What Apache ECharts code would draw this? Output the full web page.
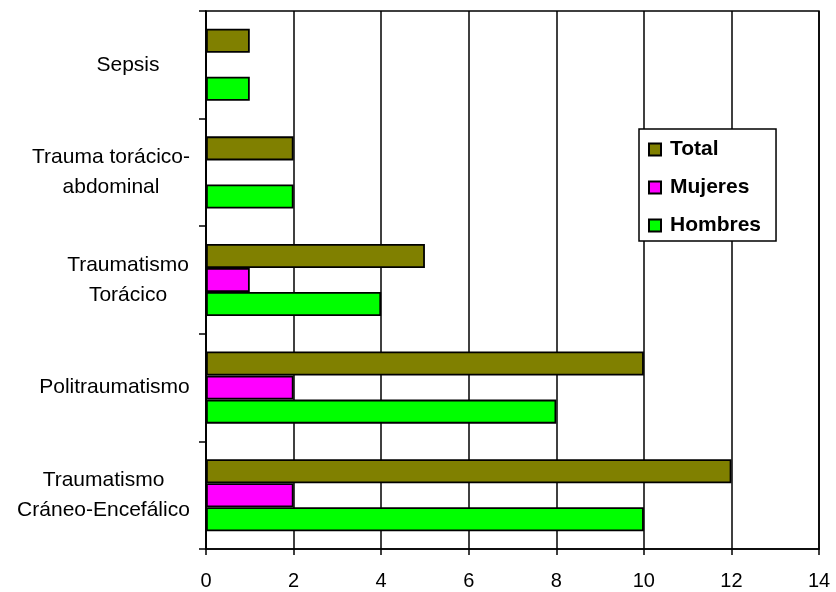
<!DOCTYPE html>
<html>
<head>
<meta charset="utf-8">
<script src="https://cdn.jsdelivr.net/npm/echarts@6/dist/echarts.min.js"></script>
<style>
  html, body { margin: 0; padding: 0; background: #fff; }
  #chart { width: 836px; height: 592px; }
</style>
</head>
<body>
<div id="chart"></div>
<script>
// Categories listed from bottom to top of the chart
const categories = [
  'Traumatismo\nCráneo-Encefálico',
  'Politraumatismo',
  'Traumatismo\nTorácico',
  'Trauma torácico-\nabdominal',
  'Sepsis'
];
const hombres = [10, 8, 4, 2, 1];
const mujeres = [2, 2, 1, 0, 0];
const total   = [12, 10, 5, 2, 1];
const xTicks = { min: 0, max: 14, interval: 2 };

const FONT = '"Liberation Sans", Arial, sans-serif';
const LABEL_SIZE = 21;
const MIN_LABEL_BOX = 124; // labels narrower than this are centred in a box of this width

// measure text so each multi-line label is centred line by line
const ctx = document.createElement('canvas').getContext('2d');
ctx.font = LABEL_SIZE + 'px ' + FONT;
const rich = {};
categories.forEach(function (c, i) {
  const w = Math.max.apply(null, c.split('\n').map(function (s) { return ctx.measureText(s).width; }));
  rich['c' + i] = {
    width: Math.max(MIN_LABEL_BOX, Math.ceil(w)),
    align: 'center',
    fontFamily: FONT, fontSize: LABEL_SIZE, color: '#000', lineHeight: 30
  };
});

const chart = echarts.init(document.getElementById('chart'), null, { renderer: 'canvas' });

function barSeries(name, data, color) {
  return {
    name: name,
    type: 'bar',
    data: data,
    barGap: '0%',
    barCategoryGap: '33%',
    itemStyle: { color: color, borderColor: '#000', borderWidth: 1.8 },
    emphasis: { disabled: true },
    animation: false
  };
}

chart.setOption({
  backgroundColor: '#fff',
  animation: false,
  grid: {
    left: 206, right: 17, top: 11, bottom: 43,
    show: true, borderColor: '#000', borderWidth: 1.5
  },
  legend: {
    orient: 'vertical',
    left: 639, top: 129,
    data: ['Total', 'Mujeres', 'Hombres'],
    backgroundColor: '#fff',
    borderColor: '#000', borderWidth: 1.5,
    padding: [10, 15, 5, 9],
    itemWidth: 12, itemHeight: 12, itemGap: 17,
    icon: 'rect',
    textStyle: { fontFamily: FONT, fontSize: 21, fontWeight: 'bold', color: '#000', lineHeight: 21, padding: [0, 0, 0, 4] }
  },
  xAxis: {
    type: 'value',
    min: xTicks.min, max: xTicks.max, interval: xTicks.interval,
    axisLine: { show: true, lineStyle: { color: '#000', width: 1.5 } },
    axisTick: { show: true, length: 6, lineStyle: { color: '#000', width: 1.5 } },
    axisLabel: { fontFamily: FONT, fontSize: 20, color: '#000', margin: 22 },
    splitLine: { show: true, lineStyle: { color: '#000', width: 1.5 } }
  },
  yAxis: {
    type: 'category',
    data: categories,
    axisLine: { show: true, lineStyle: { color: '#000', width: 1.5 } },
    axisTick: { show: true, length: 7, lineStyle: { color: '#000', width: 1.5 } },
    axisLabel: {
      margin: 16,
      fontFamily: FONT, fontSize: LABEL_SIZE, color: '#000',
      formatter: function (v) {
        const i = categories.indexOf(v);
        return v.split('\n').map(function (s) { return '{c' + i + '|' + s + '}'; }).join('\n');
      },
      rich: rich
    }
  },
  series: [
    barSeries('Total', total, '#808000'),
    barSeries('Mujeres', mujeres, '#FF00FF'),
    barSeries('Hombres', hombres, '#00FF00')
  ]
});
</script>
</body>
</html>
